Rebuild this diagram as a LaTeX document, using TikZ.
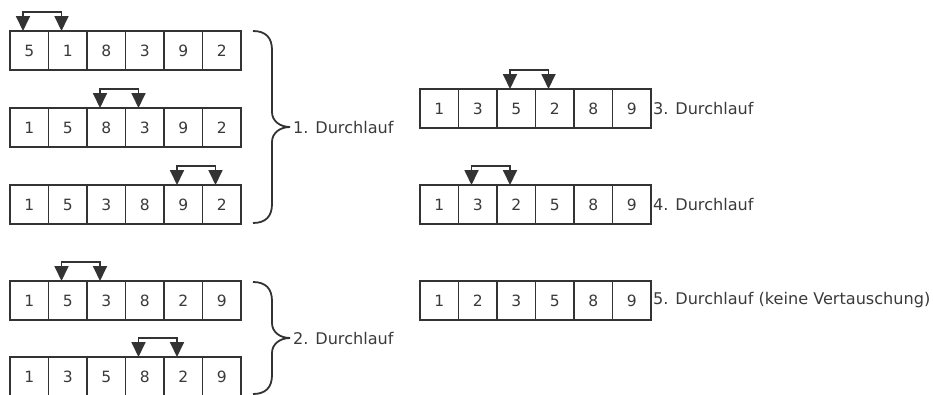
\documentclass[tikz,border=0pt]{standalone}
\usepackage{fontspec}
\setmainfont{DejaVu Sans}
\usetikzlibrary{arrows.meta}
\definecolor{ink}{HTML}{333333}
\definecolor{txt}{HTML}{3A3A3A}
\tikzset{
  cell/.style={draw=ink, line width=1.8pt, minimum width=38.5pt, minimum height=39pt,
    inner sep=0pt, outer sep=0pt, text=txt, font=\fontsize{15.5}{18}\selectfont},
  swaparrow/.style={draw=ink, line width=1.8pt,
    {Triangle[width=14pt,length=15pt]}-{Triangle[width=14pt,length=15pt]}},
  bracestyle/.style={draw=ink, line width=1.8pt},
  lbl/.style={anchor=west, inner sep=0pt, text=txt, font=\fontsize{16.1}{19}\selectfont}
}
\begin{document}
\begin{tikzpicture}[x=1pt,y=-1pt]
\useasboundingbox (0,0) rectangle (933,394);
% rows of cells
\foreach \row/\x/\y/\vals in {
  a/29.25/50.5/{5,1,8,3,9,2},
  b/29.25/127.5/{1,5,8,3,9,2},
  c/29.25/204.5/{1,5,3,8,9,2},
  d/29.25/300.5/{1,5,3,8,2,9},
  e/29.25/376.5/{1,3,5,8,2,9},
  f/439.25/108.5/{1,3,5,2,8,9},
  g/439.25/204.5/{1,3,2,5,8,9},
  h/439.25/300.5/{1,2,3,5,8,9}}{
  \foreach \v [count=\i] in \vals {
    \node[cell] (\row\i) at ({\x+38.5*(\i-1)},\y) {\v};
  }
}
% swap arrows
\foreach \r/\p/\q in {a/1/2, b/3/4, c/5/6, d/2/3, e/4/5, f/3/4, g/2/3}{
  \draw[swaparrow] ([xshift=-6.25pt]\r\p.north) -- ++(0,-19) -| ([xshift=-6.25pt]\r\q.north);
}
% braces
\coordinate (b1t) at (253,31);
\coordinate (b1m) at (290,127);
\coordinate (b1b) at (253,223);
\draw[bracestyle] (b1t) .. controls (266,31) and (272,38) .. (272,50) -- (272,112)
  .. controls (272,121) and (280,127) .. (b1m)
  .. controls (280,127) and (272,133) .. (272,142) -- (272,204)
  .. controls (272,216) and (266,223) .. (b1b);
\coordinate (b2t) at (253,282);
\coordinate (b2m) at (290,338);
\coordinate (b2b) at (253,394);
\draw[bracestyle] (b2t) .. controls (266,282) and (272,289) .. (272,301) -- (272,323)
  .. controls (272,332) and (280,338) .. (b2m)
  .. controls (280,338) and (272,344) .. (272,353) -- (272,375)
  .. controls (272,387) and (266,394) .. (b2b);
% labels
\node[lbl] (l1) at (293,127) {1. Durchlauf};
\node[lbl] (l2) at (293,338) {2. Durchlauf};
\node[lbl] (l3) at ([xshift=2pt]f6.east) {3. Durchlauf};
\node[lbl] (l4) at ([xshift=2pt]g6.east) {4. Durchlauf};
\node[lbl] (l5) at ([xshift=2pt]h6.east) {5. Durchlauf (keine Vertauschung)};
\end{tikzpicture}
\end{document}
